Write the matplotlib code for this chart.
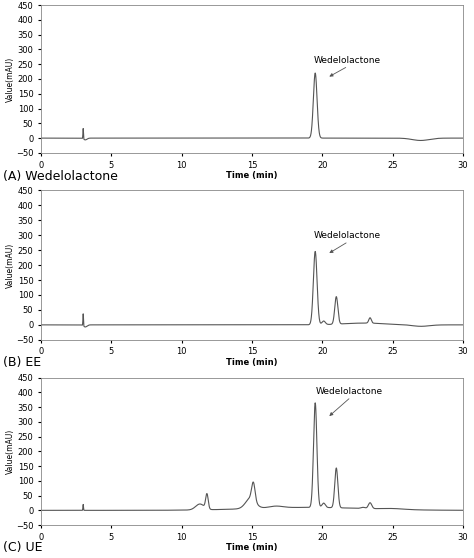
import numpy as np
import matplotlib
matplotlib.use("Agg")
import matplotlib.pyplot as plt

# peak tables: (retention time, height, width) per sample
peaks_A = [(3.0, 35, 0.02), (3.15, -6, 0.12), (19.5, 220, 0.13), (27.0, -8, 0.6)]
peaks_B = [(3.0, 40, 0.02), (3.15, -7, 0.12), (19.5, 245, 0.13), (20.1, 12, 0.12),
           (21.0, 92, 0.11), (23.4, 18, 0.09), (23.0, 6, 1.5), (27.0, -5, 0.6)]
peaks_C = [(3.0, 20, 0.02), (11.3, 20, 0.3), (11.8, 50, 0.09), (14.9, 35, 0.35),
           (15.1, 60, 0.12), (16.7, 6, 0.5), (19.0, 10, 4.0),
           (19.5, 355, 0.12), (20.1, 15, 0.12), (21.0, 135, 0.11), (22.9, 4, 0.15),
           (23.4, 20, 0.12), (25.0, 3, 0.8)]
labels = ["(A) Wedelolactone", "(B) EE", "(C) UE"]
ann_text_xy = [(19.4, 255), (19.4, 290), (19.5, 395)]
ann_tip_xy = [(20.5, 208), (20.5, 240), (20.5, 320)]

t = np.linspace(0, 30, 6001)
def trace(peaks):
    y = np.zeros_like(t)
    for c, h, w in peaks:
        y += h * np.exp(-0.5 * ((t - c) / w) ** 2)
    return y

fig = plt.figure(figsize=(4.74, 5.58), dpi=100)
boxes = [(0.0865, 0.726, 0.89, 0.265), (0.0865, 0.391, 0.89, 0.268), (0.0865, 0.059, 0.89, 0.264)]
label_y = [0.677, 0.344, 0.012]
for i, pk in enumerate([peaks_A, peaks_B, peaks_C]):
    ax = fig.add_axes(boxes[i])
    ax.plot(t, trace(pk), color="#555555", lw=0.8)
    ax.set_xlim(0, 30); ax.set_ylim(-50, 450)
    ax.set_xticks(range(0, 31, 5)); ax.set_yticks(range(-50, 451, 50))
    ax.tick_params(labelsize=6, length=2)
    for s in ax.spines.values():
        s.set_color("#888888"); s.set_linewidth(0.6)
    ax.set_xlabel("Time (min)", fontsize=6, fontweight="bold", labelpad=1)
    ax.set_ylabel("Value(mAU)", fontsize=5.5, labelpad=1)
    ax.annotate("Wedelolactone", xy=ann_tip_xy[i], xytext=ann_text_xy[i], fontsize=6.5,
                arrowprops=dict(arrowstyle="-|>", color="#555555", lw=0.6, mutation_scale=5,
                                shrinkA=0, shrinkB=0, relpos=(0.55, 0)))
    fig.text(0.006, label_y[i], labels[i], fontsize=9)
fig.savefig("out.png", dpi=100)
